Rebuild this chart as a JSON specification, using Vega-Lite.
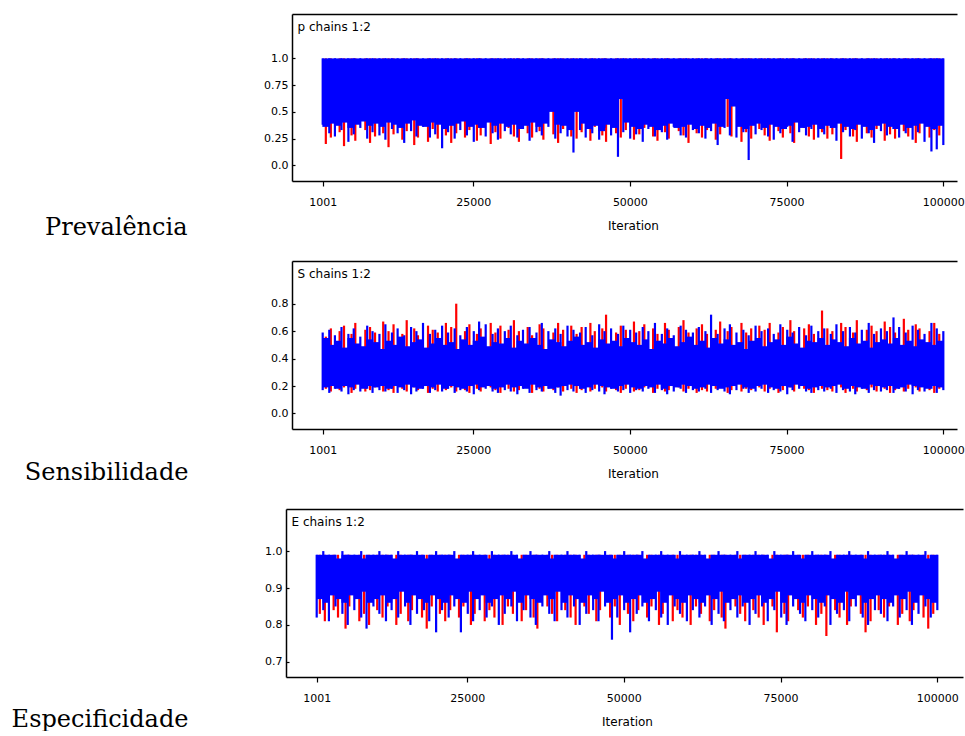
{
"$schema": "https://vega.github.io/schema/vega-lite/v6.json",
"background": "white",
"padding": {"left": 11, "top": 14, "right": 0, "bottom": 0},
"spacing": 80,
"bounds": "flush",
"center": true,
"config": {
 "view": {"stroke": null},
 "axis": {"labelFont": "DejaVu Sans", "labelFontSize": 11, "labelColor": "black", "titleFont": "DejaVu Sans", "titleFontSize": 12, "titleFontWeight": "normal", "titleColor": "black", "domainColor": "black", "domainWidth": 1.5, "tickColor": "black", "tickWidth": 1.2, "grid": false, "labelOverlap": false, "labelFlush": false, "labelBound": false}
},
"datasets": {
"pc": [
{"i":1501,"lo":0.36,"hi":1},{"i":2501,"lo":0.39,"hi":1},{"i":3501,"lo":0.37,"hi":1},{"i":4501,"lo":0.40,"hi":1},{"i":5501,"lo":0.35,"hi":1},
{"i":6501,"lo":0.38,"hi":1},{"i":7501,"lo":0.41,"hi":1},{"i":8501,"lo":0.37,"hi":1},{"i":9501,"lo":0.39,"hi":1},{"i":10501,"lo":0.36,"hi":1},
{"i":11501,"lo":0.40,"hi":1},{"i":12501,"lo":0.38,"hi":1},{"i":13501,"lo":0.35,"hi":1},{"i":14501,"lo":0.39,"hi":1},{"i":15501,"lo":0.42,"hi":1},
{"i":16501,"lo":0.37,"hi":1},{"i":17501,"lo":0.36,"hi":1},{"i":18501,"lo":0.40,"hi":1},{"i":19501,"lo":0.38,"hi":1},{"i":20501,"lo":0.34,"hi":1},
{"i":21501,"lo":0.37,"hi":1},{"i":22501,"lo":0.39,"hi":1},{"i":23501,"lo":0.41,"hi":1},{"i":24501,"lo":0.36,"hi":1},{"i":25501,"lo":0.38,"hi":1},
{"i":26501,"lo":0.35,"hi":1},{"i":27501,"lo":0.40,"hi":1},{"i":28501,"lo":0.37,"hi":1},{"i":29501,"lo":0.39,"hi":1},{"i":30501,"lo":0.36,"hi":1},
{"i":31501,"lo":0.38,"hi":1},{"i":32501,"lo":0.34,"hi":1},{"i":33501,"lo":0.37,"hi":1},{"i":34501,"lo":0.40,"hi":1},{"i":35501,"lo":0.36,"hi":1},
{"i":36501,"lo":0.39,"hi":1},{"i":37501,"lo":0.50,"hi":1},{"i":38501,"lo":0.38,"hi":1},{"i":39501,"lo":0.37,"hi":1},{"i":40501,"lo":0.33,"hi":1},
{"i":41501,"lo":0.50,"hi":1},{"i":42501,"lo":0.39,"hi":1},{"i":43501,"lo":0.34,"hi":1},{"i":44501,"lo":0.37,"hi":1},{"i":45501,"lo":0.32,"hi":1},
{"i":46501,"lo":0.38,"hi":1},{"i":47501,"lo":0.35,"hi":1},{"i":48501,"lo":0.62,"hi":1},{"i":49501,"lo":0.40,"hi":1},{"i":50501,"lo":0.36,"hi":1},
{"i":51501,"lo":0.34,"hi":1},{"i":52501,"lo":0.38,"hi":1},{"i":53501,"lo":0.36,"hi":1},{"i":54501,"lo":0.33,"hi":1},{"i":55501,"lo":0.37,"hi":1},
{"i":56501,"lo":0.39,"hi":1},{"i":57501,"lo":0.35,"hi":1},{"i":58501,"lo":0.36,"hi":1},{"i":59501,"lo":0.38,"hi":1},{"i":60501,"lo":0.34,"hi":1},
{"i":61501,"lo":0.37,"hi":1},{"i":62501,"lo":0.35,"hi":1},{"i":63501,"lo":0.39,"hi":1},{"i":64501,"lo":0.36,"hi":1},{"i":65501,"lo":0.62,"hi":1},
{"i":66501,"lo":0.55,"hi":1},{"i":67501,"lo":0.36,"hi":1},{"i":68501,"lo":0.34,"hi":1},{"i":69501,"lo":0.37,"hi":1},{"i":70501,"lo":0.39,"hi":1},
{"i":71501,"lo":0.35,"hi":1},{"i":72501,"lo":0.38,"hi":1},{"i":73501,"lo":0.36,"hi":1},{"i":74501,"lo":0.34,"hi":1},{"i":75501,"lo":0.37,"hi":1},
{"i":76501,"lo":0.40,"hi":1},{"i":77501,"lo":0.35,"hi":1},{"i":78501,"lo":0.36,"hi":1},{"i":79501,"lo":0.38,"hi":1},{"i":80501,"lo":0.34,"hi":1},
{"i":81501,"lo":0.37,"hi":1},{"i":82501,"lo":0.35,"hi":1},{"i":83501,"lo":0.39,"hi":1},{"i":84501,"lo":0.36,"hi":1},{"i":85501,"lo":0.34,"hi":1},
{"i":86501,"lo":0.38,"hi":1},{"i":87501,"lo":0.36,"hi":1},{"i":88501,"lo":0.33,"hi":1},{"i":89501,"lo":0.37,"hi":1},{"i":90501,"lo":0.39,"hi":1},
{"i":91501,"lo":0.36,"hi":1},{"i":92501,"lo":0.34,"hi":1},{"i":93501,"lo":0.38,"hi":1},{"i":94501,"lo":0.35,"hi":1},{"i":95501,"lo":0.37,"hi":1},
{"i":96501,"lo":0.39,"hi":1},{"i":97501,"lo":0.36,"hi":1},{"i":98501,"lo":0.34,"hi":1},{"i":99501,"lo":0.37,"hi":1}
],
"pb": [
{"i":1001,"lo":0.38,"hi":1},{"i":2051,"lo":0.30,"hi":1},{"i":2951,"lo":0.27,"hi":1},{"i":4001,"lo":0.33,"hi":1},{"i":5101,"lo":0.22,"hi":1},
{"i":5951,"lo":0.29,"hi":1},{"i":7001,"lo":0.35,"hi":1},{"i":8101,"lo":0.25,"hi":1},{"i":8951,"lo":0.31,"hi":1},{"i":10051,"lo":0.28,"hi":1},
{"i":11001,"lo":0.24,"hi":1},{"i":12051,"lo":0.34,"hi":1},{"i":12951,"lo":0.30,"hi":1},{"i":14001,"lo":0.21,"hi":1},{"i":15101,"lo":0.32,"hi":1},
{"i":15951,"lo":0.27,"hi":1},{"i":17001,"lo":0.36,"hi":1},{"i":18101,"lo":0.26,"hi":1},{"i":18951,"lo":0.29,"hi":1},{"i":20051,"lo":0.16,"hi":1},
{"i":21001,"lo":0.31,"hi":1},{"i":22051,"lo":0.25,"hi":1},{"i":22951,"lo":0.33,"hi":1},{"i":24001,"lo":0.28,"hi":1},{"i":25101,"lo":0.22,"hi":1},
{"i":25951,"lo":0.35,"hi":1},{"i":27001,"lo":0.27,"hi":1},{"i":28101,"lo":0.30,"hi":1},{"i":28951,"lo":0.24,"hi":1},{"i":30051,"lo":0.32,"hi":1},
{"i":31001,"lo":0.29,"hi":1},{"i":32051,"lo":0.26,"hi":1},{"i":32951,"lo":0.34,"hi":1},{"i":34001,"lo":0.23,"hi":1},{"i":35101,"lo":0.31,"hi":1},
{"i":35951,"lo":0.28,"hi":1},{"i":37001,"lo":0.36,"hi":1},{"i":38101,"lo":0.25,"hi":1},{"i":38951,"lo":0.30,"hi":1},{"i":40051,"lo":0.27,"hi":1},
{"i":41001,"lo":0.12,"hi":1},{"i":42051,"lo":0.33,"hi":1},{"i":42951,"lo":0.26,"hi":1},{"i":44001,"lo":0.30,"hi":1},{"i":45101,"lo":0.24,"hi":1},
{"i":45951,"lo":0.35,"hi":1},{"i":47001,"lo":0.28,"hi":1},{"i":48101,"lo":0.08,"hi":1},{"i":48951,"lo":0.31,"hi":1},{"i":50051,"lo":0.25,"hi":1},
{"i":51001,"lo":0.29,"hi":1},{"i":52051,"lo":0.22,"hi":1},{"i":52951,"lo":0.34,"hi":1},{"i":54001,"lo":0.27,"hi":1},{"i":55101,"lo":0.31,"hi":1},
{"i":55951,"lo":0.24,"hi":1},{"i":57001,"lo":0.36,"hi":1},{"i":58101,"lo":0.28,"hi":1},{"i":58951,"lo":0.26,"hi":1},{"i":60051,"lo":0.33,"hi":1},
{"i":61001,"lo":0.30,"hi":1},{"i":62051,"lo":0.25,"hi":1},{"i":62951,"lo":0.32,"hi":1},{"i":64001,"lo":0.19,"hi":1},{"i":65101,"lo":0.35,"hi":1},
{"i":65951,"lo":0.28,"hi":1},{"i":67001,"lo":0.26,"hi":1},{"i":68101,"lo":0.31,"hi":1},{"i":68951,"lo":0.05,"hi":1},{"i":70051,"lo":0.29,"hi":1},
{"i":71001,"lo":0.33,"hi":1},{"i":72051,"lo":0.27,"hi":1},{"i":72951,"lo":0.24,"hi":1},{"i":74001,"lo":0.30,"hi":1},{"i":75101,"lo":0.36,"hi":1},
{"i":75951,"lo":0.22,"hi":1},{"i":77001,"lo":0.31,"hi":1},{"i":78101,"lo":0.28,"hi":1},{"i":78951,"lo":0.34,"hi":1},{"i":80051,"lo":0.26,"hi":1},
{"i":81001,"lo":0.29,"hi":1},{"i":82051,"lo":0.35,"hi":1},{"i":82951,"lo":0.23,"hi":1},{"i":84001,"lo":0.31,"hi":1},{"i":85101,"lo":0.27,"hi":1},
{"i":85951,"lo":0.33,"hi":1},{"i":87001,"lo":0.25,"hi":1},{"i":88101,"lo":0.30,"hi":1},{"i":88951,"lo":0.21,"hi":1},{"i":90051,"lo":0.32,"hi":1},
{"i":91001,"lo":0.28,"hi":1},{"i":92051,"lo":0.34,"hi":1},{"i":92951,"lo":0.26,"hi":1},{"i":94001,"lo":0.30,"hi":1},{"i":95101,"lo":0.24,"hi":1},
{"i":95951,"lo":0.31,"hi":1},{"i":97001,"lo":0.22,"hi":1},{"i":98101,"lo":0.13,"hi":1},{"i":98951,"lo":0.15,"hi":1},{"i":100000,"lo":0.19,"hi":1}
],
"pr": [
{"i":1501,"lo":0.20,"hi":1},{"i":2301,"lo":0.26,"hi":1},{"i":3701,"lo":0.31,"hi":1},{"i":4401,"lo":0.18,"hi":1},{"i":5601,"lo":0.28,"hi":1},
{"i":6201,"lo":0.23,"hi":1},{"i":7801,"lo":0.33,"hi":1},{"i":8551,"lo":0.21,"hi":1},{"i":9351,"lo":0.27,"hi":1},{"i":10651,"lo":0.30,"hi":1},
{"i":11501,"lo":0.17,"hi":1},{"i":12301,"lo":0.29,"hi":1},{"i":13701,"lo":0.24,"hi":1},{"i":14401,"lo":0.32,"hi":1},{"i":15601,"lo":0.19,"hi":1},
{"i":16201,"lo":0.26,"hi":1},{"i":17801,"lo":0.22,"hi":1},{"i":18551,"lo":0.34,"hi":1},{"i":19351,"lo":0.25,"hi":1},{"i":20651,"lo":0.28,"hi":1},
{"i":21501,"lo":0.21,"hi":1},{"i":22301,"lo":0.30,"hi":1},{"i":23701,"lo":0.26,"hi":1},{"i":24401,"lo":0.33,"hi":1},{"i":25601,"lo":0.23,"hi":1},
{"i":26201,"lo":0.28,"hi":1},{"i":27801,"lo":0.20,"hi":1},{"i":28551,"lo":0.31,"hi":1},{"i":29351,"lo":0.25,"hi":1},{"i":30651,"lo":0.35,"hi":1},
{"i":31501,"lo":0.27,"hi":1},{"i":32301,"lo":0.22,"hi":1},{"i":33701,"lo":0.30,"hi":1},{"i":34401,"lo":0.26,"hi":1},{"i":35601,"lo":0.32,"hi":1},
{"i":36201,"lo":0.24,"hi":1},{"i":37801,"lo":0.29,"hi":1},{"i":38551,"lo":0.21,"hi":1},{"i":39351,"lo":0.34,"hi":1},{"i":40651,"lo":0.27,"hi":1},
{"i":41501,"lo":0.25,"hi":1},{"i":42301,"lo":0.31,"hi":1},{"i":43701,"lo":0.23,"hi":1},{"i":44401,"lo":0.36,"hi":1},{"i":45601,"lo":0.28,"hi":1},
{"i":46201,"lo":0.22,"hi":1},{"i":47801,"lo":0.30,"hi":1},{"i":48551,"lo":0.26,"hi":1},{"i":49351,"lo":0.33,"hi":1},{"i":50651,"lo":0.24,"hi":1},
{"i":51501,"lo":0.29,"hi":1},{"i":52301,"lo":0.35,"hi":1},{"i":53701,"lo":0.27,"hi":1},{"i":54401,"lo":0.23,"hi":1},{"i":55601,"lo":0.31,"hi":1},
{"i":56201,"lo":0.25,"hi":1},{"i":57801,"lo":0.32,"hi":1},{"i":58551,"lo":0.28,"hi":1},{"i":59351,"lo":0.21,"hi":1},{"i":60651,"lo":0.30,"hi":1},
{"i":61501,"lo":0.26,"hi":1},{"i":62301,"lo":0.33,"hi":1},{"i":63701,"lo":0.24,"hi":1},{"i":64401,"lo":0.29,"hi":1},{"i":65601,"lo":0.36,"hi":1},
{"i":66201,"lo":0.27,"hi":1},{"i":67801,"lo":0.22,"hi":1},{"i":68551,"lo":0.31,"hi":1},{"i":69351,"lo":0.25,"hi":1},{"i":70651,"lo":0.34,"hi":1},
{"i":71501,"lo":0.28,"hi":1},{"i":72301,"lo":0.23,"hi":1},{"i":73701,"lo":0.32,"hi":1},{"i":74401,"lo":0.26,"hi":1},{"i":75601,"lo":0.30,"hi":1},
{"i":76201,"lo":0.21,"hi":1},{"i":77801,"lo":0.35,"hi":1},{"i":78551,"lo":0.27,"hi":1},{"i":79351,"lo":0.24,"hi":1},{"i":80651,"lo":0.31,"hi":1},
{"i":81501,"lo":0.25,"hi":1},{"i":82301,"lo":0.29,"hi":1},{"i":83701,"lo":0.06,"hi":1},{"i":84401,"lo":0.33,"hi":1},{"i":85601,"lo":0.27,"hi":1},
{"i":86201,"lo":0.22,"hi":1},{"i":87801,"lo":0.30,"hi":1},{"i":88551,"lo":0.26,"hi":1},{"i":89351,"lo":0.34,"hi":1},{"i":90651,"lo":0.23,"hi":1},
{"i":91501,"lo":0.29,"hi":1},{"i":92301,"lo":0.25,"hi":1},{"i":93701,"lo":0.32,"hi":1},{"i":94401,"lo":0.27,"hi":1},{"i":95601,"lo":0.21,"hi":1},
{"i":96201,"lo":0.30,"hi":1},{"i":97801,"lo":0.26,"hi":1},{"i":98551,"lo":0.33,"hi":1},{"i":99351,"lo":0.28,"hi":1}
],
"sc": [
{"i":1501,"lo":0.19,"hi":0.55},{"i":2501,"lo":0.20,"hi":0.50},{"i":3501,"lo":0.18,"hi":0.53},{"i":4501,"lo":0.20,"hi":0.48},{"i":5501,"lo":0.19,"hi":0.55},
{"i":6501,"lo":0.21,"hi":0.51},{"i":7501,"lo":0.18,"hi":0.49},{"i":8501,"lo":0.20,"hi":0.54},{"i":9501,"lo":0.19,"hi":0.52},{"i":10501,"lo":0.20,"hi":0.47},
{"i":11501,"lo":0.18,"hi":0.53},{"i":12501,"lo":0.20,"hi":0.50},{"i":13501,"lo":0.19,"hi":0.56},{"i":14501,"lo":0.21,"hi":0.49},{"i":15501,"lo":0.19,"hi":0.52},
{"i":16501,"lo":0.18,"hi":0.54},{"i":17501,"lo":0.20,"hi":0.48},{"i":18501,"lo":0.19,"hi":0.51},{"i":19501,"lo":0.21,"hi":0.55},{"i":20501,"lo":0.18,"hi":0.50},
{"i":21501,"lo":0.20,"hi":0.52},{"i":22501,"lo":0.19,"hi":0.47},{"i":23501,"lo":0.18,"hi":0.54},{"i":24501,"lo":0.20,"hi":0.50},{"i":25501,"lo":0.21,"hi":0.53},
{"i":26501,"lo":0.19,"hi":0.56},{"i":27501,"lo":0.20,"hi":0.49},{"i":28501,"lo":0.18,"hi":0.52},{"i":29501,"lo":0.19,"hi":0.51},{"i":30501,"lo":0.21,"hi":0.55},
{"i":31501,"lo":0.19,"hi":0.48},{"i":32501,"lo":0.20,"hi":0.53},{"i":33501,"lo":0.18,"hi":0.51},{"i":34501,"lo":0.21,"hi":0.55},{"i":35501,"lo":0.19,"hi":0.50},
{"i":36501,"lo":0.20,"hi":0.47},{"i":37501,"lo":0.18,"hi":0.54},{"i":38501,"lo":0.19,"hi":0.52},{"i":39501,"lo":0.20,"hi":0.49},{"i":40501,"lo":0.21,"hi":0.53},
{"i":41501,"lo":0.20,"hi":0.56},{"i":42501,"lo":0.18,"hi":0.50},{"i":43501,"lo":0.19,"hi":0.52},{"i":44501,"lo":0.21,"hi":0.48},{"i":45501,"lo":0.20,"hi":0.54},
{"i":46501,"lo":0.19,"hi":0.51},{"i":47501,"lo":0.18,"hi":0.53},{"i":48501,"lo":0.20,"hi":0.49},{"i":49501,"lo":0.21,"hi":0.55},{"i":50501,"lo":0.19,"hi":0.52},
{"i":51501,"lo":0.18,"hi":0.50},{"i":52501,"lo":0.20,"hi":0.54},{"i":53501,"lo":0.19,"hi":0.47},{"i":54501,"lo":0.21,"hi":0.53},{"i":55501,"lo":0.18,"hi":0.51},
{"i":56501,"lo":0.20,"hi":0.55},{"i":57501,"lo":0.19,"hi":0.49},{"i":58501,"lo":0.21,"hi":0.52},{"i":59501,"lo":0.20,"hi":0.56},{"i":60501,"lo":0.18,"hi":0.50},
{"i":61501,"lo":0.19,"hi":0.53},{"i":62501,"lo":0.21,"hi":0.48},{"i":63501,"lo":0.20,"hi":0.55},{"i":64501,"lo":0.18,"hi":0.51},{"i":65501,"lo":0.19,"hi":0.54},
{"i":66501,"lo":0.20,"hi":0.50},{"i":67501,"lo":0.21,"hi":0.52},{"i":68501,"lo":0.19,"hi":0.47},{"i":69501,"lo":0.18,"hi":0.53},{"i":70501,"lo":0.20,"hi":0.55},
{"i":71501,"lo":0.21,"hi":0.49},{"i":72501,"lo":0.19,"hi":0.52},{"i":73501,"lo":0.18,"hi":0.54},{"i":74501,"lo":0.20,"hi":0.50},{"i":75501,"lo":0.19,"hi":0.56},
{"i":76501,"lo":0.21,"hi":0.51},{"i":77501,"lo":0.20,"hi":0.48},{"i":78501,"lo":0.18,"hi":0.53},{"i":79501,"lo":0.19,"hi":0.52},{"i":80501,"lo":0.20,"hi":0.55},
{"i":81501,"lo":0.19,"hi":0.50},{"i":82501,"lo":0.20,"hi":0.54},{"i":83501,"lo":0.21,"hi":0.52},{"i":84501,"lo":0.18,"hi":0.49},{"i":85501,"lo":0.20,"hi":0.55},
{"i":86501,"lo":0.19,"hi":0.51},{"i":87501,"lo":0.18,"hi":0.53},{"i":88501,"lo":0.21,"hi":0.48},{"i":89501,"lo":0.20,"hi":0.52},{"i":90501,"lo":0.19,"hi":0.54},
{"i":91501,"lo":0.20,"hi":0.51},{"i":92501,"lo":0.18,"hi":0.55},{"i":93501,"lo":0.19,"hi":0.50},{"i":94501,"lo":0.21,"hi":0.53},{"i":95501,"lo":0.20,"hi":0.49},
{"i":96501,"lo":0.19,"hi":0.54},{"i":97501,"lo":0.18,"hi":0.52},{"i":98501,"lo":0.20,"hi":0.50},{"i":99501,"lo":0.19,"hi":0.53}
],
"sb": [
{"i":1001,"lo":0.17,"hi":0.59},{"i":2051,"lo":0.15,"hi":0.61},{"i":2951,"lo":0.18,"hi":0.57},{"i":4001,"lo":0.16,"hi":0.63},{"i":5101,"lo":0.14,"hi":0.58},
{"i":5951,"lo":0.17,"hi":0.62},{"i":7001,"lo":0.16,"hi":0.56},{"i":8101,"lo":0.18,"hi":0.64},{"i":8951,"lo":0.15,"hi":0.60},{"i":10051,"lo":0.17,"hi":0.58},
{"i":11001,"lo":0.16,"hi":0.65},{"i":12051,"lo":0.18,"hi":0.59},{"i":12951,"lo":0.15,"hi":0.62},{"i":14001,"lo":0.17,"hi":0.57},{"i":15101,"lo":0.14,"hi":0.63},
{"i":15951,"lo":0.16,"hi":0.60},{"i":17001,"lo":0.18,"hi":0.66},{"i":18101,"lo":0.15,"hi":0.58},{"i":18951,"lo":0.17,"hi":0.61},{"i":20051,"lo":0.16,"hi":0.64},
{"i":21001,"lo":0.18,"hi":0.59},{"i":22051,"lo":0.15,"hi":0.62},{"i":22951,"lo":0.17,"hi":0.57},{"i":24001,"lo":0.16,"hi":0.63},{"i":25101,"lo":0.14,"hi":0.60},
{"i":25951,"lo":0.17,"hi":0.67},{"i":27001,"lo":0.18,"hi":0.65},{"i":28101,"lo":0.16,"hi":0.58},{"i":28951,"lo":0.15,"hi":0.62},{"i":30051,"lo":0.17,"hi":0.60},
{"i":31001,"lo":0.16,"hi":0.64},{"i":32051,"lo":0.14,"hi":0.57},{"i":32951,"lo":0.18,"hi":0.61},{"i":34001,"lo":0.15,"hi":0.63},{"i":35101,"lo":0.17,"hi":0.59},
{"i":35951,"lo":0.16,"hi":0.66},{"i":37001,"lo":0.18,"hi":0.60},{"i":38101,"lo":0.15,"hi":0.62},{"i":38951,"lo":0.13,"hi":0.58},{"i":40051,"lo":0.17,"hi":0.64},
{"i":41001,"lo":0.16,"hi":0.61},{"i":42051,"lo":0.18,"hi":0.59},{"i":42951,"lo":0.15,"hi":0.63},{"i":44001,"lo":0.17,"hi":0.57},{"i":45101,"lo":0.16,"hi":0.65},
{"i":45951,"lo":0.14,"hi":0.60},{"i":47001,"lo":0.18,"hi":0.62},{"i":48101,"lo":0.16,"hi":0.58},{"i":48951,"lo":0.17,"hi":0.64},{"i":50051,"lo":0.15,"hi":0.61},
{"i":51001,"lo":0.17,"hi":0.59},{"i":52051,"lo":0.16,"hi":0.63},{"i":52951,"lo":0.18,"hi":0.60},{"i":54001,"lo":0.15,"hi":0.66},{"i":55101,"lo":0.17,"hi":0.58},
{"i":55951,"lo":0.14,"hi":0.62},{"i":57001,"lo":0.16,"hi":0.57},{"i":58101,"lo":0.18,"hi":0.64},{"i":58951,"lo":0.15,"hi":0.61},{"i":60051,"lo":0.17,"hi":0.59},
{"i":61001,"lo":0.16,"hi":0.63},{"i":62051,"lo":0.18,"hi":0.60},{"i":62951,"lo":0.15,"hi":0.72},{"i":64001,"lo":0.17,"hi":0.58},{"i":65101,"lo":0.16,"hi":0.62},
{"i":65951,"lo":0.14,"hi":0.65},{"i":67001,"lo":0.17,"hi":0.59},{"i":68101,"lo":0.18,"hi":0.61},{"i":68951,"lo":0.15,"hi":0.57},{"i":70051,"lo":0.16,"hi":0.64},
{"i":71001,"lo":0.18,"hi":0.60},{"i":72051,"lo":0.15,"hi":0.62},{"i":72951,"lo":0.17,"hi":0.58},{"i":74001,"lo":0.16,"hi":0.65},{"i":75101,"lo":0.14,"hi":0.61},
{"i":75951,"lo":0.17,"hi":0.59},{"i":77001,"lo":0.18,"hi":0.63},{"i":78101,"lo":0.16,"hi":0.57},{"i":78951,"lo":0.15,"hi":0.64},{"i":80051,"lo":0.17,"hi":0.60},
{"i":81001,"lo":0.16,"hi":0.62},{"i":82051,"lo":0.18,"hi":0.58},{"i":82951,"lo":0.15,"hi":0.65},{"i":84001,"lo":0.17,"hi":0.60},{"i":85101,"lo":0.16,"hi":0.63},
{"i":85951,"lo":0.14,"hi":0.59},{"i":87001,"lo":0.18,"hi":0.61},{"i":88101,"lo":0.15,"hi":0.66},{"i":88951,"lo":0.17,"hi":0.58},{"i":90051,"lo":0.16,"hi":0.62},
{"i":91001,"lo":0.17,"hi":0.60},{"i":92051,"lo":0.15,"hi":0.70},{"i":92951,"lo":0.18,"hi":0.63},{"i":94001,"lo":0.16,"hi":0.59},{"i":95101,"lo":0.14,"hi":0.64},
{"i":95951,"lo":0.17,"hi":0.61},{"i":97001,"lo":0.16,"hi":0.58},{"i":98101,"lo":0.18,"hi":0.66},{"i":98951,"lo":0.15,"hi":0.62},{"i":100000,"lo":0.17,"hi":0.60}
],
"sr": [
{"i":1501,"lo":0.18,"hi":0.56},{"i":2301,"lo":0.16,"hi":0.62},{"i":3701,"lo":0.17,"hi":0.60},{"i":4401,"lo":0.19,"hi":0.64},{"i":5601,"lo":0.15,"hi":0.58},
{"i":6201,"lo":0.18,"hi":0.66},{"i":7801,"lo":0.16,"hi":0.61},{"i":8551,"lo":0.17,"hi":0.63},{"i":9351,"lo":0.19,"hi":0.59},{"i":10651,"lo":0.16,"hi":0.67},
{"i":11501,"lo":0.17,"hi":0.60},{"i":12301,"lo":0.15,"hi":0.65},{"i":13701,"lo":0.18,"hi":0.58},{"i":14401,"lo":0.16,"hi":0.68},{"i":15601,"lo":0.19,"hi":0.62},
{"i":16201,"lo":0.17,"hi":0.57},{"i":17801,"lo":0.15,"hi":0.64},{"i":18551,"lo":0.18,"hi":0.61},{"i":19351,"lo":0.16,"hi":0.59},{"i":20651,"lo":0.17,"hi":0.66},
{"i":21501,"lo":0.19,"hi":0.63},{"i":22301,"lo":0.16,"hi":0.80},{"i":23701,"lo":0.17,"hi":0.60},{"i":24401,"lo":0.15,"hi":0.65},{"i":25601,"lo":0.18,"hi":0.58},
{"i":26201,"lo":0.16,"hi":0.62},{"i":27801,"lo":0.19,"hi":0.66},{"i":28551,"lo":0.17,"hi":0.59},{"i":29351,"lo":0.15,"hi":0.64},{"i":30651,"lo":0.18,"hi":0.61},
{"i":31501,"lo":0.16,"hi":0.68},{"i":32301,"lo":0.17,"hi":0.60},{"i":33701,"lo":0.19,"hi":0.63},{"i":34401,"lo":0.15,"hi":0.57},{"i":35601,"lo":0.18,"hi":0.65},
{"i":36201,"lo":0.16,"hi":0.62},{"i":37801,"lo":0.17,"hi":0.59},{"i":38551,"lo":0.19,"hi":0.66},{"i":39351,"lo":0.16,"hi":0.61},{"i":40651,"lo":0.18,"hi":0.64},
{"i":41501,"lo":0.15,"hi":0.58},{"i":42301,"lo":0.17,"hi":0.63},{"i":43701,"lo":0.16,"hi":0.66},{"i":44401,"lo":0.18,"hi":0.60},{"i":45601,"lo":0.19,"hi":0.62},
{"i":46201,"lo":0.16,"hi":0.72},{"i":47801,"lo":0.17,"hi":0.59},{"i":48551,"lo":0.15,"hi":0.64},{"i":49351,"lo":0.18,"hi":0.61},{"i":50651,"lo":0.16,"hi":0.67},
{"i":51501,"lo":0.17,"hi":0.60},{"i":52301,"lo":0.19,"hi":0.65},{"i":53701,"lo":0.15,"hi":0.62},{"i":54401,"lo":0.18,"hi":0.58},{"i":55601,"lo":0.16,"hi":0.66},
{"i":56201,"lo":0.17,"hi":0.61},{"i":57801,"lo":0.19,"hi":0.63},{"i":58551,"lo":0.16,"hi":0.68},{"i":59351,"lo":0.18,"hi":0.59},{"i":60651,"lo":0.15,"hi":0.62},
{"i":61501,"lo":0.17,"hi":0.65},{"i":62301,"lo":0.16,"hi":0.58},{"i":63701,"lo":0.18,"hi":0.61},{"i":64401,"lo":0.19,"hi":0.67},{"i":65601,"lo":0.15,"hi":0.60},
{"i":66201,"lo":0.17,"hi":0.63},{"i":67801,"lo":0.16,"hi":0.66},{"i":68551,"lo":0.18,"hi":0.59},{"i":69351,"lo":0.17,"hi":0.62},{"i":70651,"lo":0.19,"hi":0.64},
{"i":71501,"lo":0.16,"hi":0.61},{"i":72301,"lo":0.18,"hi":0.66},{"i":73701,"lo":0.15,"hi":0.59},{"i":74401,"lo":0.17,"hi":0.63},{"i":75601,"lo":0.19,"hi":0.68},
{"i":76201,"lo":0.16,"hi":0.60},{"i":77801,"lo":0.18,"hi":0.62},{"i":78551,"lo":0.17,"hi":0.65},{"i":79351,"lo":0.15,"hi":0.58},{"i":80651,"lo":0.18,"hi":0.75},
{"i":81501,"lo":0.17,"hi":0.62},{"i":82301,"lo":0.16,"hi":0.60},{"i":83701,"lo":0.19,"hi":0.66},{"i":84401,"lo":0.15,"hi":0.63},{"i":85601,"lo":0.18,"hi":0.59},
{"i":86201,"lo":0.16,"hi":0.68},{"i":87801,"lo":0.17,"hi":0.61},{"i":88551,"lo":0.19,"hi":0.64},{"i":89351,"lo":0.16,"hi":0.60},{"i":90651,"lo":0.18,"hi":0.67},
{"i":91501,"lo":0.15,"hi":0.63},{"i":92301,"lo":0.17,"hi":0.59},{"i":93701,"lo":0.16,"hi":0.69},{"i":94401,"lo":0.18,"hi":0.61},{"i":95601,"lo":0.19,"hi":0.65},
{"i":96201,"lo":0.16,"hi":0.62},{"i":97801,"lo":0.17,"hi":0.60},{"i":98551,"lo":0.15,"hi":0.66},{"i":99351,"lo":0.18,"hi":0.58}
],
"ec": [
{"i":1501,"lo":0.87,"hi":0.99},{"i":2501,"lo":0.86,"hi":0.99},{"i":3501,"lo":0.88,"hi":0.99},{"i":4501,"lo":0.87,"hi":0.98},{"i":5501,"lo":0.86,"hi":0.99},
{"i":6501,"lo":0.88,"hi":0.99},{"i":7501,"lo":0.87,"hi":0.99},{"i":8501,"lo":0.89,"hi":0.98},{"i":9501,"lo":0.86,"hi":0.99},{"i":10501,"lo":0.87,"hi":0.99},
{"i":11501,"lo":0.88,"hi":0.99},{"i":12501,"lo":0.86,"hi":0.99},{"i":13501,"lo":0.87,"hi":0.98},{"i":14501,"lo":0.89,"hi":0.99},{"i":15501,"lo":0.86,"hi":0.99},
{"i":16501,"lo":0.88,"hi":0.99},{"i":17501,"lo":0.87,"hi":0.99},{"i":18501,"lo":0.86,"hi":0.98},{"i":19501,"lo":0.88,"hi":0.99},{"i":20501,"lo":0.87,"hi":0.99},
{"i":21501,"lo":0.86,"hi":0.99},{"i":22501,"lo":0.88,"hi":0.99},{"i":23501,"lo":0.87,"hi":0.98},{"i":24501,"lo":0.86,"hi":0.99},{"i":25501,"lo":0.89,"hi":0.99},
{"i":26501,"lo":0.87,"hi":0.99},{"i":27501,"lo":0.88,"hi":0.99},{"i":28501,"lo":0.86,"hi":0.98},{"i":29501,"lo":0.87,"hi":0.99},{"i":30501,"lo":0.88,"hi":0.99},
{"i":31501,"lo":0.87,"hi":0.99},{"i":32501,"lo":0.89,"hi":0.99},{"i":33501,"lo":0.86,"hi":0.98},{"i":34501,"lo":0.88,"hi":0.99},{"i":35501,"lo":0.87,"hi":0.99},
{"i":36501,"lo":0.86,"hi":0.99},{"i":37501,"lo":0.88,"hi":0.99},{"i":38501,"lo":0.87,"hi":0.98},{"i":39501,"lo":0.89,"hi":0.99},{"i":40501,"lo":0.86,"hi":0.99},
{"i":41501,"lo":0.88,"hi":0.99},{"i":42501,"lo":0.87,"hi":0.99},{"i":43501,"lo":0.86,"hi":0.98},{"i":44501,"lo":0.88,"hi":0.99},{"i":45501,"lo":0.87,"hi":0.99},
{"i":46501,"lo":0.89,"hi":0.99},{"i":47501,"lo":0.86,"hi":0.99},{"i":48501,"lo":0.87,"hi":0.98},{"i":49501,"lo":0.88,"hi":0.99},{"i":50501,"lo":0.86,"hi":0.99},
{"i":51501,"lo":0.87,"hi":0.99},{"i":52501,"lo":0.88,"hi":0.99},{"i":53501,"lo":0.86,"hi":0.98},{"i":54501,"lo":0.87,"hi":0.99},{"i":55501,"lo":0.89,"hi":0.99},
{"i":56501,"lo":0.86,"hi":0.99},{"i":57501,"lo":0.88,"hi":0.99},{"i":58501,"lo":0.87,"hi":0.98},{"i":59501,"lo":0.86,"hi":0.99},{"i":60501,"lo":0.88,"hi":0.99},
{"i":61501,"lo":0.87,"hi":0.99},{"i":62501,"lo":0.86,"hi":0.99},{"i":63501,"lo":0.88,"hi":0.98},{"i":64501,"lo":0.87,"hi":0.99},{"i":65501,"lo":0.89,"hi":0.99},
{"i":66501,"lo":0.86,"hi":0.99},{"i":67501,"lo":0.87,"hi":0.99},{"i":68501,"lo":0.88,"hi":0.98},{"i":69501,"lo":0.86,"hi":0.99},{"i":70501,"lo":0.87,"hi":0.99},
{"i":71501,"lo":0.88,"hi":0.99},{"i":72501,"lo":0.86,"hi":0.99},{"i":73501,"lo":0.87,"hi":0.98},{"i":74501,"lo":0.89,"hi":0.99},{"i":75501,"lo":0.86,"hi":0.99},
{"i":76501,"lo":0.88,"hi":0.99},{"i":77501,"lo":0.87,"hi":0.99},{"i":78501,"lo":0.86,"hi":0.98},{"i":79501,"lo":0.88,"hi":0.99},{"i":80501,"lo":0.87,"hi":0.99},
{"i":81501,"lo":0.86,"hi":0.99},{"i":82501,"lo":0.88,"hi":0.99},{"i":83501,"lo":0.87,"hi":0.98},{"i":84501,"lo":0.86,"hi":0.99},{"i":85501,"lo":0.89,"hi":0.99},
{"i":86501,"lo":0.87,"hi":0.99},{"i":87501,"lo":0.88,"hi":0.99},{"i":88501,"lo":0.86,"hi":0.98},{"i":89501,"lo":0.87,"hi":0.99},{"i":90501,"lo":0.88,"hi":0.99},
{"i":91501,"lo":0.87,"hi":0.99},{"i":92501,"lo":0.86,"hi":0.99},{"i":93501,"lo":0.88,"hi":0.98},{"i":94501,"lo":0.87,"hi":0.99},{"i":95501,"lo":0.89,"hi":0.99},
{"i":96501,"lo":0.86,"hi":0.99},{"i":97501,"lo":0.88,"hi":0.99},{"i":98501,"lo":0.87,"hi":0.98},{"i":99501,"lo":0.86,"hi":0.99}
],
"eb": [
{"i":1001,"lo":0.82,"hi":0.99},{"i":2051,"lo":0.84,"hi":1},{"i":2951,"lo":0.81,"hi":0.99},{"i":4001,"lo":0.85,"hi":0.99},{"i":5101,"lo":0.83,"hi":1},
{"i":5951,"lo":0.80,"hi":0.99},{"i":7001,"lo":0.84,"hi":0.99},{"i":8101,"lo":0.82,"hi":1},{"i":8951,"lo":0.79,"hi":0.99},{"i":10051,"lo":0.85,"hi":0.99},
{"i":11001,"lo":0.83,"hi":1},{"i":12051,"lo":0.81,"hi":0.99},{"i":12951,"lo":0.84,"hi":0.99},{"i":14001,"lo":0.82,"hi":1},{"i":15101,"lo":0.85,"hi":0.99},
{"i":15951,"lo":0.80,"hi":0.99},{"i":17001,"lo":0.83,"hi":1},{"i":18101,"lo":0.84,"hi":0.99},{"i":18951,"lo":0.81,"hi":0.99},{"i":20051,"lo":0.78,"hi":1},
{"i":21001,"lo":0.84,"hi":0.99},{"i":22051,"lo":0.82,"hi":0.99},{"i":22951,"lo":0.85,"hi":1},{"i":24001,"lo":0.78,"hi":0.99},{"i":25101,"lo":0.83,"hi":0.99},
{"i":25951,"lo":0.81,"hi":1},{"i":27001,"lo":0.84,"hi":0.99},{"i":28101,"lo":0.82,"hi":0.99},{"i":28951,"lo":0.85,"hi":1},{"i":30051,"lo":0.80,"hi":0.99},
{"i":31001,"lo":0.83,"hi":0.99},{"i":32051,"lo":0.85,"hi":1},{"i":32951,"lo":0.81,"hi":0.99},{"i":34001,"lo":0.84,"hi":0.99},{"i":35101,"lo":0.82,"hi":1},
{"i":35951,"lo":0.80,"hi":0.99},{"i":37001,"lo":0.85,"hi":0.99},{"i":38101,"lo":0.83,"hi":1},{"i":38951,"lo":0.81,"hi":0.99},{"i":40051,"lo":0.84,"hi":0.99},
{"i":41001,"lo":0.82,"hi":1},{"i":42051,"lo":0.85,"hi":0.99},{"i":42951,"lo":0.80,"hi":0.99},{"i":44001,"lo":0.83,"hi":1},{"i":45101,"lo":0.84,"hi":0.99},
{"i":45951,"lo":0.81,"hi":0.99},{"i":47001,"lo":0.85,"hi":1},{"i":48101,"lo":0.76,"hi":0.99},{"i":48951,"lo":0.82,"hi":0.99},{"i":50051,"lo":0.84,"hi":1},
{"i":51001,"lo":0.78,"hi":0.99},{"i":52051,"lo":0.83,"hi":0.99},{"i":52951,"lo":0.85,"hi":1},{"i":54001,"lo":0.81,"hi":0.99},{"i":55101,"lo":0.84,"hi":0.99},
{"i":55951,"lo":0.82,"hi":1},{"i":57001,"lo":0.80,"hi":0.99},{"i":58101,"lo":0.85,"hi":0.99},{"i":58951,"lo":0.83,"hi":1},{"i":60051,"lo":0.81,"hi":0.99},
{"i":61001,"lo":0.84,"hi":0.99},{"i":62051,"lo":0.82,"hi":1},{"i":62951,"lo":0.85,"hi":0.99},{"i":64001,"lo":0.80,"hi":0.99},{"i":65101,"lo":0.83,"hi":1},
{"i":65951,"lo":0.81,"hi":0.99},{"i":67001,"lo":0.84,"hi":0.99},{"i":68101,"lo":0.82,"hi":1},{"i":68951,"lo":0.85,"hi":0.99},{"i":70051,"lo":0.80,"hi":0.99},
{"i":71001,"lo":0.83,"hi":1},{"i":72051,"lo":0.85,"hi":0.99},{"i":72951,"lo":0.81,"hi":0.99},{"i":74001,"lo":0.84,"hi":1},{"i":75101,"lo":0.82,"hi":0.99},
{"i":75951,"lo":0.80,"hi":0.99},{"i":77001,"lo":0.85,"hi":1},{"i":78101,"lo":0.83,"hi":0.99},{"i":78951,"lo":0.81,"hi":0.99},{"i":80051,"lo":0.84,"hi":1},
{"i":81001,"lo":0.82,"hi":0.99},{"i":82051,"lo":0.85,"hi":0.99},{"i":82951,"lo":0.80,"hi":1},{"i":84001,"lo":0.83,"hi":0.99},{"i":85101,"lo":0.84,"hi":0.99},
{"i":85951,"lo":0.81,"hi":1},{"i":87001,"lo":0.85,"hi":0.99},{"i":88101,"lo":0.82,"hi":0.99},{"i":88951,"lo":0.80,"hi":1},{"i":90051,"lo":0.84,"hi":0.99},
{"i":91001,"lo":0.83,"hi":0.99},{"i":92051,"lo":0.81,"hi":1},{"i":92951,"lo":0.85,"hi":0.99},{"i":94001,"lo":0.82,"hi":0.99},{"i":95101,"lo":0.84,"hi":1},
{"i":95951,"lo":0.80,"hi":0.99},{"i":97001,"lo":0.83,"hi":0.99},{"i":98101,"lo":0.85,"hi":1},{"i":98951,"lo":0.82,"hi":0.99},{"i":100000,"lo":0.84,"hi":0.99}
],
"er": [
{"i":1501,"lo":0.83,"hi":0.99},{"i":2301,"lo":0.81,"hi":0.99},{"i":3701,"lo":0.84,"hi":0.99},{"i":4401,"lo":0.82,"hi":0.99},{"i":5601,"lo":0.79,"hi":0.99},
{"i":6201,"lo":0.85,"hi":0.99},{"i":7801,"lo":0.81,"hi":0.99},{"i":8551,"lo":0.83,"hi":0.99},{"i":9351,"lo":0.80,"hi":0.99},{"i":10651,"lo":0.84,"hi":0.99},
{"i":11501,"lo":0.82,"hi":0.99},{"i":12301,"lo":0.85,"hi":0.99},{"i":13701,"lo":0.80,"hi":0.99},{"i":14401,"lo":0.83,"hi":0.99},{"i":15601,"lo":0.81,"hi":0.99},
{"i":16201,"lo":0.84,"hi":0.99},{"i":17801,"lo":0.82,"hi":0.99},{"i":18551,"lo":0.79,"hi":0.99},{"i":19351,"lo":0.85,"hi":0.99},{"i":20651,"lo":0.83,"hi":0.99},
{"i":21501,"lo":0.81,"hi":0.99},{"i":22301,"lo":0.84,"hi":0.99},{"i":23701,"lo":0.82,"hi":0.99},{"i":24401,"lo":0.85,"hi":0.99},{"i":25601,"lo":0.80,"hi":0.99},
{"i":26201,"lo":0.83,"hi":0.99},{"i":27801,"lo":0.81,"hi":0.99},{"i":28551,"lo":0.84,"hi":0.99},{"i":29351,"lo":0.82,"hi":0.99},{"i":30651,"lo":0.80,"hi":0.99},
{"i":31501,"lo":0.85,"hi":0.99},{"i":32301,"lo":0.83,"hi":0.99},{"i":33701,"lo":0.81,"hi":0.99},{"i":34401,"lo":0.84,"hi":0.99},{"i":35601,"lo":0.82,"hi":0.99},
{"i":36201,"lo":0.79,"hi":0.99},{"i":37801,"lo":0.85,"hi":0.99},{"i":38551,"lo":0.83,"hi":0.99},{"i":39351,"lo":0.81,"hi":0.99},{"i":40651,"lo":0.84,"hi":0.99},
{"i":41501,"lo":0.82,"hi":0.99},{"i":42301,"lo":0.80,"hi":0.99},{"i":43701,"lo":0.85,"hi":0.99},{"i":44401,"lo":0.83,"hi":0.99},{"i":45601,"lo":0.81,"hi":0.99},
{"i":46201,"lo":0.84,"hi":0.99},{"i":47801,"lo":0.82,"hi":0.99},{"i":48551,"lo":0.85,"hi":0.99},{"i":49351,"lo":0.80,"hi":0.99},{"i":50651,"lo":0.83,"hi":0.99},
{"i":51501,"lo":0.81,"hi":0.99},{"i":52301,"lo":0.84,"hi":0.99},{"i":53701,"lo":0.82,"hi":0.99},{"i":54401,"lo":0.85,"hi":0.99},{"i":55601,"lo":0.80,"hi":0.99},
{"i":56201,"lo":0.83,"hi":0.99},{"i":57801,"lo":0.81,"hi":0.99},{"i":58551,"lo":0.84,"hi":0.99},{"i":59351,"lo":0.82,"hi":0.99},{"i":60651,"lo":0.80,"hi":0.99},
{"i":61501,"lo":0.85,"hi":0.99},{"i":62301,"lo":0.83,"hi":0.99},{"i":63701,"lo":0.81,"hi":0.99},{"i":64401,"lo":0.84,"hi":0.99},{"i":65601,"lo":0.82,"hi":0.99},
{"i":66201,"lo":0.79,"hi":0.99},{"i":67801,"lo":0.85,"hi":0.99},{"i":68551,"lo":0.83,"hi":0.99},{"i":69351,"lo":0.81,"hi":0.99},{"i":70651,"lo":0.84,"hi":0.99},
{"i":71501,"lo":0.82,"hi":0.99},{"i":72301,"lo":0.80,"hi":0.99},{"i":73701,"lo":0.85,"hi":0.99},{"i":74401,"lo":0.78,"hi":0.99},{"i":75601,"lo":0.83,"hi":0.99},
{"i":76201,"lo":0.81,"hi":0.99},{"i":77801,"lo":0.84,"hi":0.99},{"i":78551,"lo":0.82,"hi":0.99},{"i":79351,"lo":0.85,"hi":0.99},{"i":80651,"lo":0.80,"hi":0.99},
{"i":81501,"lo":0.83,"hi":0.99},{"i":82301,"lo":0.77,"hi":0.99},{"i":83701,"lo":0.84,"hi":0.99},{"i":84401,"lo":0.82,"hi":0.99},{"i":85601,"lo":0.80,"hi":0.99},
{"i":86201,"lo":0.85,"hi":0.99},{"i":87801,"lo":0.83,"hi":0.99},{"i":88551,"lo":0.78,"hi":0.99},{"i":89351,"lo":0.81,"hi":0.99},{"i":90651,"lo":0.84,"hi":0.99},
{"i":91501,"lo":0.82,"hi":0.99},{"i":92301,"lo":0.85,"hi":0.99},{"i":93701,"lo":0.80,"hi":0.99},{"i":94401,"lo":0.83,"hi":0.99},{"i":95601,"lo":0.81,"hi":0.99},
{"i":96201,"lo":0.84,"hi":0.99},{"i":97801,"lo":0.82,"hi":0.99},{"i":98551,"lo":0.79,"hi":0.99},{"i":99351,"lo":0.83,"hi":0.99}
]
},
"vconcat": [
{
 "width": 665, "height": 167,
 "encoding": {
  "x": {"field": "i", "type": "quantitative", "scale": {"domain": [-3896, 102181], "nice": false, "zero": false}, "axis": null},
  "y": {"field": "lo", "type": "quantitative", "scale": {"domain": [-0.146, 1.415], "nice": false, "zero": false},
        "axis": {"values": [0, 0.25, 0.5, 0.75, 1], "labelExpr": "datum.value == 0 ? '0.0' : datum.value == 1 ? '1.0' : format(datum.value, '.2~f')", "tickSize": -3, "labelPadding": 7,
                 "title": "Prevalência", "titleAngle": 0, "titleAlign": "right", "titleBaseline": "alphabetic", "titleX": -105, "titleY": 220, "titleFont": "DejaVu Serif", "titleFontSize": 24}},
  "y2": {"field": "hi"}
 },
 "layer": [
  {"data": {"name": "pr"}, "mark": {"type": "rule", "color": "#ff0000", "strokeWidth": 2.2},
   "encoding": {"x": {"field": "i", "type": "quantitative", "scale": {"domain": [-3896, 102181], "nice": false, "zero": false},
     "axis": {"orient": "top", "labels": false, "ticks": false, "title": "p chains 1:2", "titleX": 5, "titleY": 16.5, "titleAlign": "left", "titleBaseline": "alphabetic", "titleAngle": 0}}}},
  {"data": {"name": "pc"}, "mark": {"type": "rule", "color": "#0000ff", "strokeWidth": 7}},
  {"data": {"name": "pb"}, "mark": {"type": "rule", "color": "#0000ff", "strokeWidth": 2.2},
   "encoding": {"x": {"field": "i", "type": "quantitative", "scale": {"domain": [-3896, 102181], "nice": false, "zero": false},
     "axis": {"orient": "bottom", "values": [1001, 25000, 50000, 75000, 100000], "format": "d", "tickSize": 5, "labelPadding": 19, "labelBaseline": "alphabetic",
              "title": "Iteration", "titleX": 341, "titleY": 48, "titleAlign": "center", "titleBaseline": "alphabetic"}}}}
 ],
 "resolve": {"axis": {"x": "independent"}}
},
{
 "width": 665, "height": 168,
 "encoding": {
  "x": {"field": "i", "type": "quantitative", "scale": {"domain": [-3896, 102181], "nice": false, "zero": false}, "axis": null},
  "y": {"field": "lo", "type": "quantitative", "scale": {"domain": [-0.113, 1.111], "nice": false, "zero": false},
        "axis": {"values": [0, 0.2, 0.4, 0.6, 0.8], "format": ".1f", "tickSize": -3, "labelPadding": 7,
                 "title": "Sensibilidade", "titleAngle": 0, "titleAlign": "right", "titleBaseline": "alphabetic", "titleX": -104, "titleY": 218, "titleFont": "DejaVu Serif", "titleFontSize": 24}},
  "y2": {"field": "hi"}
 },
 "layer": [
  {"data": {"name": "sr"}, "mark": {"type": "rule", "color": "#ff0000", "strokeWidth": 2.2},
   "encoding": {"x": {"field": "i", "type": "quantitative", "scale": {"domain": [-3896, 102181], "nice": false, "zero": false},
     "axis": {"orient": "top", "labels": false, "ticks": false, "title": "S chains 1:2", "titleX": 5, "titleY": 16.5, "titleAlign": "left", "titleBaseline": "alphabetic", "titleAngle": 0}}}},
  {"data": {"name": "sc"}, "mark": {"type": "rule", "color": "#0000ff", "strokeWidth": 7}},
  {"data": {"name": "sb"}, "mark": {"type": "rule", "color": "#0000ff", "strokeWidth": 2.2},
   "encoding": {"x": {"field": "i", "type": "quantitative", "scale": {"domain": [-3896, 102181], "nice": false, "zero": false},
     "axis": {"orient": "bottom", "values": [1001, 25000, 50000, 75000, 100000], "format": "d", "tickSize": 5, "labelPadding": 19, "labelBaseline": "alphabetic",
              "title": "Iteration", "titleX": 341, "titleY": 48, "titleAlign": "center", "titleBaseline": "alphabetic"}}}}
 ],
 "resolve": {"axis": {"x": "independent"}}
},
{
 "width": 677, "height": 168,
 "encoding": {
  "x": {"field": "i", "type": "quantitative", "scale": {"domain": [-3896, 104096], "nice": false, "zero": false}, "axis": null},
  "y": {"field": "lo", "type": "quantitative", "scale": {"domain": [0.659, 1.114], "nice": false, "zero": false},
        "axis": {"values": [0.7, 0.8, 0.9, 1.0], "format": ".1f", "tickSize": -3, "labelPadding": 7,
                 "title": "Especificidade", "titleAngle": 0, "titleAlign": "right", "titleBaseline": "alphabetic", "titleX": -98, "titleY": 217, "titleFont": "DejaVu Serif", "titleFontSize": 24}},
  "y2": {"field": "hi"}
 },
 "layer": [
  {"data": {"name": "er"}, "mark": {"type": "rule", "color": "#ff0000", "strokeWidth": 2.2},
   "encoding": {"x": {"field": "i", "type": "quantitative", "scale": {"domain": [-3896, 104096], "nice": false, "zero": false},
     "axis": {"orient": "top", "labels": false, "ticks": false, "title": "E chains 1:2", "titleX": 5, "titleY": 16.5, "titleAlign": "left", "titleBaseline": "alphabetic", "titleAngle": 0}}}},
  {"data": {"name": "ec"}, "mark": {"type": "rule", "color": "#0000ff", "strokeWidth": 7}},
  {"data": {"name": "eb"}, "mark": {"type": "rule", "color": "#0000ff", "strokeWidth": 2.2},
   "encoding": {"x": {"field": "i", "type": "quantitative", "scale": {"domain": [-3896, 104096], "nice": false, "zero": false},
     "axis": {"orient": "bottom", "values": [1001, 25000, 50000, 75000, 100000], "format": "d", "tickSize": 5, "labelPadding": 19, "labelBaseline": "alphabetic",
              "title": "Iteration", "titleX": 341, "titleY": 48, "titleAlign": "center", "titleBaseline": "alphabetic"}}}}
 ],
 "resolve": {"axis": {"x": "independent"}}
}
]
}
